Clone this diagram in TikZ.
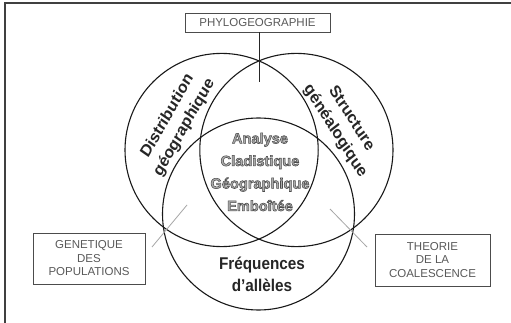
\documentclass[tikz,border=0pt]{standalone}
\usepackage{fontspec}
\setmainfont{Liberation Sans}
\definecolor{boxtext}{gray}{0.35}
\definecolor{boxline}{gray}{0.3}
\definecolor{pointer}{gray}{0.65}
\definecolor{innerfill}{gray}{0.68}
\newcommand{\embossed}[1]{\special{pdf:literal direct 2 Tr 0.55 w 0.3 G}#1\special{pdf:literal direct 0 Tr}}
\begin{document}
\begin{tikzpicture}[x=1pt,y=-1pt,
  frameline/.style={draw=black!75,line width=1.2pt},
  ring/.style={draw=black!90,line width=1.1pt},
  labelbox/.style={draw=boxline,line width=0.8pt,text=boxtext,align=center,
    font=\fontsize{11.5}{13.5}\selectfont,inner sep=0pt},
  bigtext/.style={align=center,font=\fontsize{17}{22}\selectfont\bfseries,text=black!85,xscale=0.9},
  innertext/.style={align=center,font=\fontsize{14.6}{22.5}\selectfont\bfseries,text=innerfill},
  pointerline/.style={draw=pointer,line width=0.8pt},
  linkline/.style={draw=black!85,line width=1pt}]
\useasboundingbox (0,0) rectangle (511,323);
\fill[white] (0,0) rectangle (511,323);
\draw[frameline] (5,323) -- (5,3) -- (511,3);
% circles
\draw[ring] (221.6,150) circle [radius=96.6pt];
\draw[ring] (296.4,150) circle [radius=96.6pt];
\draw[ring] (258.5,214) circle [radius=96pt];
% boxes
\node[labelbox,minimum width=145pt,minimum height=19pt] (phylo) at (257.5,22.5) {PHYLOGEOGRAPHIE};
\node[labelbox,minimum width=112pt,minimum height=51pt] (gene) at (89,258.5) {GENETIQUE\\DES\\POPULATIONS};
\node[labelbox,minimum width=115pt,minimum height=52pt] (theo) at (432.5,260) {THEORIE\\DE LA\\COALESCENCE};
% connectors
\coordinate (phyloend) at (259,82);
\draw[linkline] (phylo.south -| phyloend) -- (phyloend);
\coordinate (g1) at (152,247);
\coordinate (g2) at (187,205);
\draw[pointerline] (g1) -- (g2);
\coordinate (t1) at (330,209);
\coordinate (t2) at (367,247);
\draw[pointerline] (t1) -- (t2);
% texts
\node[bigtext,rotate=58] (distr) at (176,122) {Distribution\\géographique};
\node[bigtext,rotate=-55] (struct) at (343,125) {Structure\\généalogique};
\node[bigtext] (freq) at (262,274) {Fréquences\\d'allèles};
\node[innertext] (acge) at (260,172) {\embossed{Analyse}\\\embossed{Cladistique}\\\embossed{Géographique}\\\embossed{Emboîtée}};
\end{tikzpicture}
\end{document}
